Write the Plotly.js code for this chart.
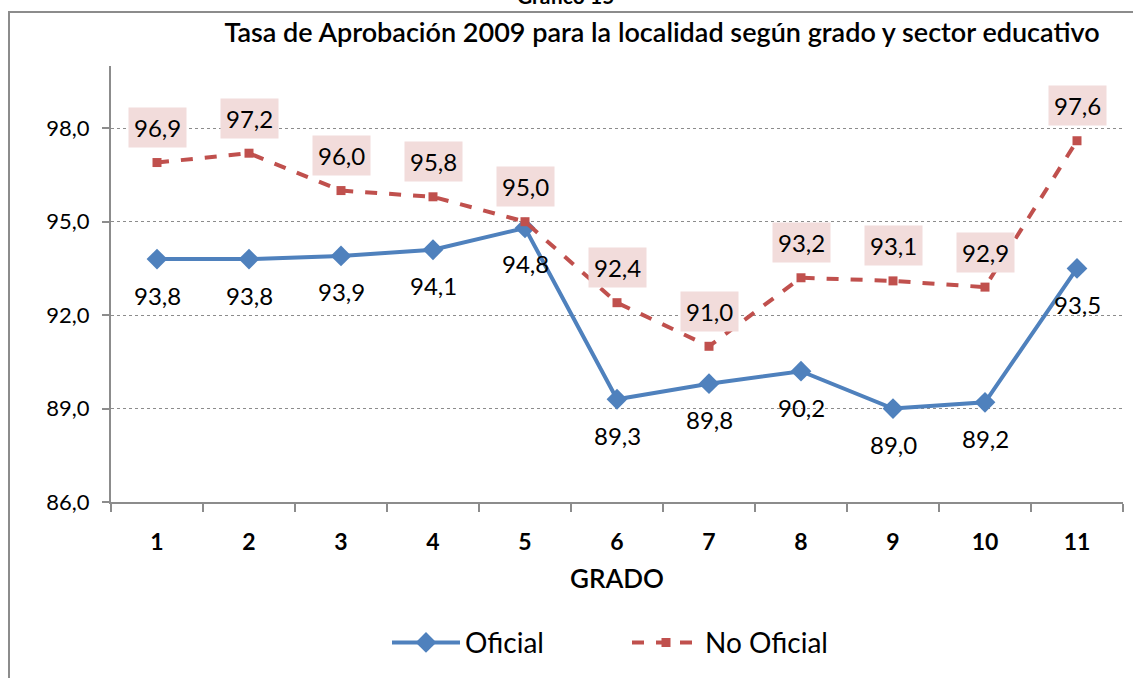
<!DOCTYPE html>
<html>
<head>
<meta charset="utf-8">
<script src="https://cdn.plot.ly/plotly-3.0.1.min.js"></script>
<style>
  html, body { margin: 0; padding: 0; background: #fff; }
  #wrap { position: relative; width: 1133px; height: 678px; overflow: hidden; }
  #chart { position: absolute; left: 0; top: 0; width: 1133px; height: 678px; }
  #frame { position: absolute; left: 8px; top: 11px; width: 1200px; height: 700px;
           border-left: 2px solid #8c8c8c; border-top: 2px solid #8c8c8c; pointer-events: none; }
</style>
</head>
<body>
<div id="wrap">
  <div id="chart"></div>
  <div id="frame"></div>
</div>
<script>
const grados = ['1','2','3','4','5','6','7','8','9','10','11'];
const oficial = [93.8, 93.8, 93.9, 94.1, 94.8, 89.3, 89.8, 90.2, 89.0, 89.2, 93.5];
const noOficial = [96.9, 97.2, 96.0, 95.8, 95.0, 92.4, 91.0, 93.2, 93.1, 92.9, 97.6];
const titulo = 'Tasa de Aprobación 2009 para la localidad según grado y sector educativo';
const supTitulo = 'Gráfico 15';

const FONT = 'Lato, "Open Sans", sans-serif';
const fmt = v => v.toFixed(1).replace('.', ',');

const traces = [
  {
    x: grados, y: oficial, name: 'Oficial', type: 'scatter', mode: 'lines+markers',
    line: { color: '#4f81bd', width: 4 },
    marker: { symbol: 'diamond', size: 16, color: '#4f81bd' }
  },
  {
    x: grados, y: noOficial, name: 'No Oficial', type: 'scatter', mode: 'lines+markers',
    line: { color: '#c0504d', width: 4, dash: 'dash' },
    marker: { symbol: 'square', size: 9, color: '#c0504d' }
  }
];

const annotations = [];
grados.forEach((g, i) => {
  annotations.push({
    x: i, y: oficial[i], xref: 'x', yref: 'y', text: fmt(oficial[i]),
    showarrow: false, yshift: -36, font: { family: FONT, size: 24, color: '#000' }
  });
  annotations.push({
    x: i, y: noOficial[i], xref: 'x', yref: 'y', text: fmt(noOficial[i]),
    showarrow: false, yshift: 35, bgcolor: '#f2dcdb', borderpad: 5,
    font: { family: FONT, size: 24, color: '#000' }
  });
});
annotations.push({
  x: (565 - 111) / 1012, xref: 'paper', xanchor: 'center', y: 1 + 71 / 440, yref: 'paper', yanchor: 'middle',
  text: supTitulo, showarrow: false, font: { family: FONT, size: 21, color: '#000', weight: 700 }
});

const layout = {
  width: 1133, height: 678,
  margin: { l: 111, r: 10, t: 66, b: 172 },
  paper_bgcolor: '#ffffff', plot_bgcolor: '#ffffff',
  separators: ',.',
  font: { family: FONT, color: '#000' },
  title: {
    text: titulo, x: 662 / 1133, xanchor: 'center', y: 1 - 33 / 678, yanchor: 'middle',
    font: { family: FONT, size: 27, color: '#000', weight: 600 }
  },
  xaxis: {
    type: 'category', range: [-0.5, 10.5],
    showline: true, linecolor: '#8c8c8c', linewidth: 2,
    ticks: 'outside', tickson: 'boundaries', ticklen: 8, tickcolor: '#8c8c8c', tickwidth: 2,
    showgrid: false, zeroline: false,
    tickfont: { family: FONT, size: 23, color: '#000', weight: 700 },
    ticklabelstandoff: 18,
    title: { text: 'GRADO', standoff: 16, font: { family: FONT, size: 26, color: '#000', weight: 600 } },
    fixedrange: true
  },
  yaxis: {
    range: [86, 100], tick0: 86, dtick: 3, tickformat: '.1f',
    showline: true, linecolor: '#8c8c8c', linewidth: 2,
    ticks: 'outside', ticklen: 7, tickcolor: '#8c8c8c', tickwidth: 2,
    showgrid: true, gridcolor: '#8c8c8c', gridwidth: 1, griddash: 'dot',
    zeroline: false,
    tickfont: { family: FONT, size: 22, color: '#000' },
    ticklabelstandoff: 8,
    fixedrange: true
  },
  showlegend: true,
  legend: {
    orientation: 'h', x: (627 - 111) / 1012, xanchor: 'center', y: -(648 - 506) / 440, yanchor: 'middle',
    font: { family: FONT, size: 28, color: '#000' }, itemwidth: 68, entrywidth: 157,
    bgcolor: 'rgba(0,0,0,0)'
  },
  annotations: annotations
};

Plotly.newPlot('chart', traces, layout, { displayModeBar: false, staticPlot: true });
</script>
</body>
</html>
